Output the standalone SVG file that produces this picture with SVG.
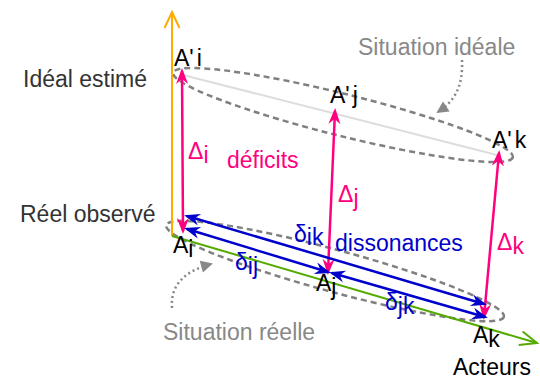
<svg xmlns="http://www.w3.org/2000/svg" width="540" height="380" viewBox="0 0 540 380">
<style>
text{font-family:"Liberation Sans",Arial,sans-serif;font-size:23px}
.lbl{fill:#000}
.axis{fill:#333}
.note{fill:#888}
.pink{fill:#ff0080}
.blue{fill:#0000cc}
.ell{fill:none;stroke:#808080;stroke-width:2.5;stroke-dasharray:6,4}
.call{fill:none;stroke:#888;stroke-width:2.5;stroke-dasharray:2,3}
.pk{stroke:#ff0080;stroke-width:2.5;fill:none;marker-start:url(#hp);marker-end:url(#hp)}
.bl{stroke:#0000cc;stroke-width:2.5;fill:none;marker-start:url(#hb);marker-end:url(#hb)}
</style>
<defs>
<marker id="hp" markerUnits="userSpaceOnUse" viewBox="-16 -8 20 16" refX="0" refY="0" markerWidth="20" markerHeight="16" orient="auto-start-reverse">
<path d="M3,0 L-13,-6 L-8,0 L-13,6 Z" fill="#ff0080"/>
</marker>
<marker id="hb" markerUnits="userSpaceOnUse" viewBox="-16 -8 20 16" refX="0" refY="0" markerWidth="20" markerHeight="16" orient="auto-start-reverse">
<path d="M3,0 L-13,-6 L-8,0 L-13,6 Z" fill="#0000cc"/>
</marker>
<marker id="og" markerUnits="userSpaceOnUse" viewBox="-20 -10 22 20" refX="0" refY="0" markerWidth="22" markerHeight="20" orient="auto">
<path d="M-16,-7.5 L0,0 L-16,7.5" fill="none" stroke="#ffaa00" stroke-width="2"/>
</marker>
<marker id="gg" markerUnits="userSpaceOnUse" viewBox="-20 -10 22 20" refX="0" refY="0" markerWidth="22" markerHeight="20" orient="auto">
<path d="M-17,-7 L0,0 L-17,7" fill="none" stroke="#55aa00" stroke-width="2"/>
</marker>
<marker id="tri" markerUnits="userSpaceOnUse" viewBox="-14 -8 16 16" refX="0" refY="0" markerWidth="16" markerHeight="16" orient="auto">
<path d="M2,0 L-10,-6 L-10,6 Z" fill="#888"/>
</marker>
</defs>

<g id="situations">
<ellipse class="ell" cx="343" cy="115" rx="175" ry="21" transform="rotate(14 343 115)"/>
<ellipse class="ell" cx="335" cy="271" rx="175" ry="21" transform="rotate(15.2 335 271)"/>
<line x1="183" y1="75" x2="497" y2="155" stroke="#dddddd" stroke-width="2"/>
</g>

<g id="connectors">
<line x1="172" y1="236" x2="172" y2="12" stroke="#ffaa00" stroke-width="2" marker-end="url(#og)"/>
<line x1="172" y1="236" x2="537" y2="343" stroke="#55aa00" stroke-width="2" marker-end="url(#gg)"/>
<line class="pk" x1="182" y1="71" x2="183" y2="231"/>
<line class="pk" x1="335" y1="111" x2="328" y2="272"/>
<line class="pk" x1="499" y1="153" x2="484" y2="317"/>
<line class="bl" x1="187" y1="216" x2="484" y2="304"/>
<line class="bl" x1="187" y1="229" x2="328" y2="272"/>
<line class="bl" x1="332" y1="273" x2="485" y2="317"/>
<path class="call" d="M462,60 C463,85 456,100 438,112" marker-end="url(#tri)"/>
<path class="call" d="M172,308 C170,285 185,271 211,264" marker-end="url(#tri)"/>
</g>

<g id="labels">
<text class="axis" x="23" y="87">Idéal estimé</text>
<text class="axis" x="20" y="222">Réel observé</text>
<text class="axis" x="453" y="375" style="fill:#000">Acteurs</text>
<text class="note" x="358" y="55">Situation idéale</text>
<text class="note" x="163" y="340">Situation réelle</text>
</g>

<g id="node-Api"><text class="lbl" x="174" y="66">A'<tspan dx="3">i</tspan></text></g>
<g id="node-Apj"><text class="lbl" x="330" y="103">A'<tspan dx="3">j</tspan></text></g>
<g id="node-Apk"><text class="lbl" x="492" y="148">A'<tspan dx="3">k</tspan></text></g>
<g id="node-Ai"><text class="lbl" x="173" y="253">A<tspan dy="4">i</tspan></text></g>
<g id="node-Aj"><text class="lbl" x="316" y="291">A<tspan dy="4">j</tspan></text></g>
<g id="node-Ak"><text class="lbl" x="473" y="343">A<tspan dy="4">k</tspan></text></g>

<g id="deficits">
<text class="pink" x="188" y="159">Δ<tspan dy="4">i</tspan></text>
<text class="pink" x="338" y="202">Δ<tspan dy="4">j</tspan></text>
<text class="pink" x="497" y="250">Δ<tspan dy="4">k</tspan></text>
<text class="pink" x="227" y="168">déficits</text>
</g>

<g id="dissonances">
<text class="blue" x="294" y="242">δ<tspan dy="3">ik</tspan></text>
<text class="blue" x="235" y="270">δ<tspan dy="4">ij</tspan></text>
<text class="blue" x="385" y="310">δ<tspan dy="4">jk</tspan></text>
<text class="blue" x="335" y="251">dissonances</text>
</g>
</svg>
